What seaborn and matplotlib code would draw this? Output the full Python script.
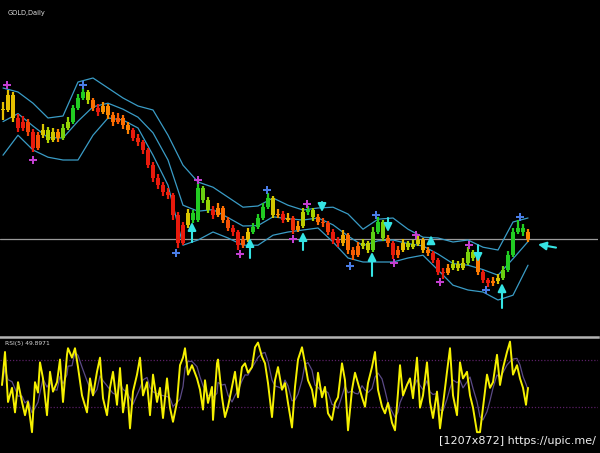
import numpy as np
import pandas as pd
import matplotlib
matplotlib.use("Agg")
import matplotlib.pyplot as plt
import seaborn as sns
from matplotlib.colors import LinearSegmentedColormap

# ---------------- data ----------------
title_text = "GOLD,Daily"
osc_label = "RSI(5) 49.8971"
watermark = "[1207x872] https://upic.me/"

closes = [1745, 1782, 1725, 1700, 1715, 1690, 1650, 1682, 1695, 1670,
          1690, 1675, 1700, 1715, 1750, 1775, 1790, 1770, 1750, 1740,
          1755, 1732, 1715, 1725, 1707, 1695, 1675, 1665, 1645, 1607,
          1575, 1557, 1540, 1532, 1482, 1412, 1457, 1487, 1470, 1550,
          1520, 1495, 1482, 1500, 1470, 1450, 1440, 1407, 1420, 1440,
          1452, 1475, 1502, 1525, 1482, 1485, 1470, 1475, 1445, 1455,
          1490, 1495, 1477, 1465, 1462, 1440, 1420, 1412, 1432, 1395,
          1382, 1405, 1412, 1395, 1440, 1465, 1425, 1412, 1382, 1395,
          1412, 1402, 1410, 1420, 1395, 1387, 1370, 1340, 1337, 1350,
          1360, 1350, 1362, 1390, 1375, 1340, 1320, 1312, 1317, 1325,
          1345, 1382, 1440, 1450, 1440, 1422]
highs = [1765, 1795, 1790, 1735, 1730, 1722, 1698, 1690, 1710, 1702,
         1700, 1697, 1710, 1728, 1758, 1785, 1800, 1795, 1775, 1760,
         1765, 1760, 1740, 1738, 1732, 1715, 1700, 1685, 1670, 1650,
         1615, 1585, 1565, 1550, 1538, 1490, 1465, 1497, 1495, 1562,
         1555, 1528, 1505, 1512, 1505, 1478, 1458, 1445, 1430, 1450,
         1462, 1485, 1512, 1537, 1530, 1498, 1492, 1488, 1480, 1468,
         1500, 1505, 1500, 1485, 1475, 1468, 1448, 1428, 1445, 1438,
         1402, 1415, 1422, 1418, 1452, 1478, 1470, 1432, 1418, 1405,
         1422, 1418, 1420, 1430, 1425, 1402, 1392, 1375, 1350, 1360,
         1370, 1368, 1375, 1402, 1395, 1380, 1345, 1325, 1328, 1335,
         1355, 1392, 1450, 1470, 1460, 1448]
lows = [1720, 1740, 1715, 1690, 1692, 1680, 1640, 1645, 1675, 1662,
        1665, 1665, 1670, 1695, 1710, 1745, 1770, 1760, 1742, 1730,
        1735, 1722, 1705, 1710, 1698, 1685, 1668, 1655, 1635, 1600,
        1565, 1548, 1530, 1522, 1470, 1400, 1408, 1450, 1462, 1465,
        1512, 1488, 1472, 1478, 1462, 1442, 1430, 1395, 1400, 1415,
        1435, 1448, 1470, 1498, 1475, 1475, 1462, 1465, 1435, 1440,
        1450, 1482, 1468, 1458, 1452, 1432, 1410, 1402, 1405, 1385,
        1370, 1378, 1398, 1388, 1390, 1435, 1418, 1402, 1372, 1376,
        1390, 1395, 1398, 1405, 1388, 1380, 1362, 1332, 1322, 1332,
        1345, 1342, 1345, 1358, 1368, 1332, 1312, 1302, 1305, 1310,
        1320, 1340, 1378, 1435, 1430, 1415]

band_step = 3
band_upper = [1800, 1790, 1762, 1725, 1730, 1815, 1825, 1800, 1775, 1755,
              1745, 1682, 1607, 1565, 1552, 1527, 1502, 1505, 1525, 1507,
              1495, 1500, 1502, 1485, 1447, 1472, 1475, 1447, 1427, 1425,
              1415, 1420, 1402, 1395, 1465, 1475]
band_mid = [1716, 1736, 1705, 1676, 1675, 1717, 1753, 1762, 1747, 1727,
            1688, 1620, 1507, 1492, 1496, 1476, 1455, 1456, 1478, 1473,
            1470, 1475, 1458, 1430, 1406, 1418, 1420, 1411, 1405, 1385,
            1361, 1357, 1346, 1332, 1373, 1416]
band_lower = [1632, 1682, 1645, 1627, 1620, 1620, 1682, 1725, 1720, 1700,
              1632, 1557, 1407, 1420, 1440, 1425, 1407, 1407, 1432, 1440,
              1445, 1450, 1415, 1375, 1365, 1365, 1365, 1375, 1382, 1345,
              1307, 1295, 1290, 1270, 1282, 1357]

# zigzag markers (bar, price)
magenta_bar = [0.8, 6.0, 39.0, 47.4, 58.0, 60.8, 78.2, 82.6, 87.4, 93.2]
magenta_px = [1808, 1620, 1570, 1385, 1422, 1510, 1362, 1432, 1316, 1408]
blue_bar = [16.0, 34.6, 52.8, 69.4, 74.6, 96.6, 103.4]
blue_px = [1808, 1388, 1545, 1355, 1483, 1296, 1478]

# cyan arrows: bar, tail price, tip price
arrow_bar = [37.8, 49.4, 60.0, 73.8, 99.8, 85.6, 63.8, 77.0, 95.0]
arrow_tail = [1415, 1375, 1395, 1330, 1250, 1412, 1515, 1475, 1407]
arrow_tip = [1465, 1425, 1440, 1390, 1312, 1432, 1490, 1440, 1365]
# horizontal arrow pointing left
harrow_bar_tail, harrow_bar_tip, harrow_price = 110.6, 107.0, 1405

# oscillator (bar, value)
osc_bar = [-0.2, 0.4, 1.0, 1.8, 2.4, 3.0, 3.8, 4.4, 5.0, 5.8, 6.4, 7.0, 7.4, 8.0, 8.8,
           9.4, 10.0, 10.8, 11.4, 12.0, 12.8, 13.0, 13.8, 14.4, 15.0, 15.8, 16.8, 17.4,
           18.0, 18.8, 19.4, 20.0, 20.8, 21.4, 22.0, 22.8, 23.4, 24.0, 24.8, 25.4, 26.0,
           26.8, 27.4, 28.0, 28.8, 29.4, 30.0, 30.8, 31.4, 32.0, 32.8, 33.4, 34.0, 34.8,
           35.4, 36.0, 36.4, 37.0, 37.8, 38.8, 39.4, 40.0, 40.4, 41.0, 41.8, 42.0, 42.8,
           43.0, 43.8, 44.4, 45.0, 45.8, 46.4, 47.0, 47.8, 48.4, 49.0, 49.8, 50.4, 51.0,
           51.8, 52.4, 53.0, 53.8, 54.4, 55.0, 55.8, 56.4, 57.0, 57.8, 58.4, 59.0, 59.8,
           60.4, 61.0, 61.8, 62.4, 63.0, 63.8, 64.4, 65.0, 65.8, 66.4, 67.0, 67.8, 68.4,
           69.0, 69.8, 70.4, 71.0, 71.8, 72.4, 73.0, 73.8, 74.4, 75.0, 75.8, 76.4, 77.0,
           77.8, 78.4, 79.0, 79.4, 80.0, 80.8, 81.4, 82.0, 82.8, 83.4, 84.0, 84.8, 85.4,
           86.0, 86.8, 87.4, 88.0, 88.8, 89.4, 90.0, 90.8, 91.4, 92.0, 92.8, 93.4, 94.0,
           94.8, 95.4, 96.0, 96.8, 97.4, 98.0, 98.8, 99.4, 100.0, 100.8, 101.4, 102.0,
           102.8, 103.4, 104.0, 104.6, 105.0]
osc_val = [53, 88, 35, 50, 24, 56, 35, 21, 35, 3, 56, 45, 77, 60, 21,
           67, 46, 56, 80, 35, 85, 92, 82, 92, 72, 42, 24, 60,
           42, 67, 82, 39, 21, 50, 67, 32, 71, 24, 53, 7, 46,
           64, 82, 42, 56, 21, 64, 35, 50, 18, 60, 29, 14, 35,
           74, 82, 92, 64, 74, 60, 48, 27, 58, 34, 51, 16, 76,
           80, 40, 19, 30, 51, 67, 40, 72, 76, 66, 72, 93, 98,
           83, 76, 55, 19, 58, 72, 48, 55, 34, 8, 51, 80, 93,
           76, 58, 48, 30, 66, 40, 51, 23, 16, 34, 40, 76, 58,
           5, 48, 66, 55, 40, 30, 55, 72, 88, 48, 30, 23, 34,
           13, 5, 45, 74, 42, 53, 60, 39, 82, 29, 42, 77, 35,
           18, 46, 7, 32, 67, 92, 42, 21, 77, 60, 67, 42, 29,
           3, 3, 29, 64, 50, 56, 85, 53, 71, 88, 99, 64,
           74, 60, 50, 32, 50]
osc_levels = [80, 30]

# ---------------- styling ----------------
sns.set_theme(style="dark", rc={"axes.facecolor": "black",
                                "figure.facecolor": "black",
                                "savefig.facecolor": "black"})
plt.rcParams["font.family"] = ["DejaVu Sans"]

band_color = "#3a9cc6"
cyan = "#35e3e3"
candle_cmap = LinearSegmentedColormap.from_list(
    "heat", ["#e81a0c", "#ff7a00", "#e6c000", "#a8d400", "#22cc22"])

fig = plt.figure(figsize=(6, 4.53), dpi=100)
ax = fig.add_axes([0, 118 / 453, 598 / 600, 335 / 453])
ax2 = fig.add_axes([0, 18 / 453, 598 / 600, 98 / 453], sharex=ax)

for a in (ax, ax2):
    a.set_facecolor("black")
    a.set_xticks([])
    a.set_yticks([])
    for s in a.spines.values():
        s.set_visible(False)
    a.grid(False)

# ---- price panel ----
idx = np.arange(len(closes))
c = np.array(closes, dtype=float)
o = np.concatenate([[c[0]], c[:-1]])
lo = np.minimum(o, c)
hi = np.maximum(o, c)
h = np.maximum(hi - lo, 3.0)
mom = pd.Series(c).diff(3).fillna(0).to_numpy()
cols = candle_cmap(np.clip((mom + 45) / 90, 0, 1))
ax.vlines(idx, lows, highs, colors=cols, linewidth=1.6, zorder=3)
ax.bar(idx, h, bottom=lo, width=0.8, color=cols, linewidth=0, zorder=3)

bdf = pd.DataFrame({"bar": np.arange(len(band_upper)) * band_step,
                    "upper": band_upper, "mid": band_mid, "lower": band_lower})
for col in ("upper", "mid", "lower"):
    sns.lineplot(data=bdf, x="bar", y=col, ax=ax, color=band_color,
                 linewidth=0.9, zorder=2)

ax.axhline(closes[-1], color="#9a9a9a", linewidth=0.9, zorder=1)

sns.scatterplot(x=magenta_bar, y=magenta_px, ax=ax, marker="P", s=30,
                color="#c33fd0", linewidth=0, zorder=5)
sns.scatterplot(x=blue_bar, y=blue_px, ax=ax, marker="P", s=30,
                color="#4a7de6", linewidth=0, zorder=5)

for b, t0, t1 in zip(arrow_bar, arrow_tail, arrow_tip):
    ax.annotate("", xy=(b, t1), xytext=(b, t0),
                arrowprops=dict(arrowstyle="-|>,head_width=0.2,head_length=0.4",
                                color=cyan, lw=1.5, shrinkA=0, shrinkB=0),
                zorder=6)
ax.annotate("", xy=(harrow_bar_tip, harrow_price + 4),
            xytext=(harrow_bar_tail, harrow_price - 4),
            arrowprops=dict(arrowstyle="-|>,head_width=0.2,head_length=0.4",
                            color=cyan, lw=1.5, shrinkA=0, shrinkB=0), zorder=6)

ax.set_xlim(-0.6, 119.0)
ax.set_ylim(1182.5, 2020)
ax.set_xlabel("")
ax.set_ylabel("")

# ---- oscillator panel ----
odf = pd.DataFrame({"bar": osc_bar, "val": osc_val})
odf["sig"] = odf["val"].rolling(4, min_periods=1).mean()
for lv in osc_levels:
    ax2.axhline(lv, color="#5a1f66", linewidth=0.9, linestyle=(0, (1, 1.5)), zorder=1)
sns.lineplot(data=odf, x="bar", y="sig", ax=ax2, color="#5b4a86",
             linewidth=0.9, zorder=2)
sns.lineplot(data=odf, x="bar", y="val", ax=ax2, color="#f5f000",
             linewidth=1.4, zorder=3)
ax2.set_ylim(0, 103.9)
ax2.set_xlabel("")
ax2.set_ylabel("")
ax2.spines["top"].set_visible(True)
ax2.spines["top"].set_color("#b4b4b4")
ax2.spines["top"].set_linewidth(1.8)

fig.text(8 / 600, 1 - 13 / 453, title_text, color="#e0e0e0", fontsize=4.8,
         va="center", ha="left")
fig.text(5 / 600, 1 - 344 / 453, osc_label, color="#d8d8d8", fontsize=4.3,
         va="center", ha="left")
fig.text(596 / 600, 1 - 441 / 453, watermark, color="#f0f0f0", fontsize=8,
         va="center", ha="right")

fig.savefig("out.png", dpi=100, facecolor="black")
